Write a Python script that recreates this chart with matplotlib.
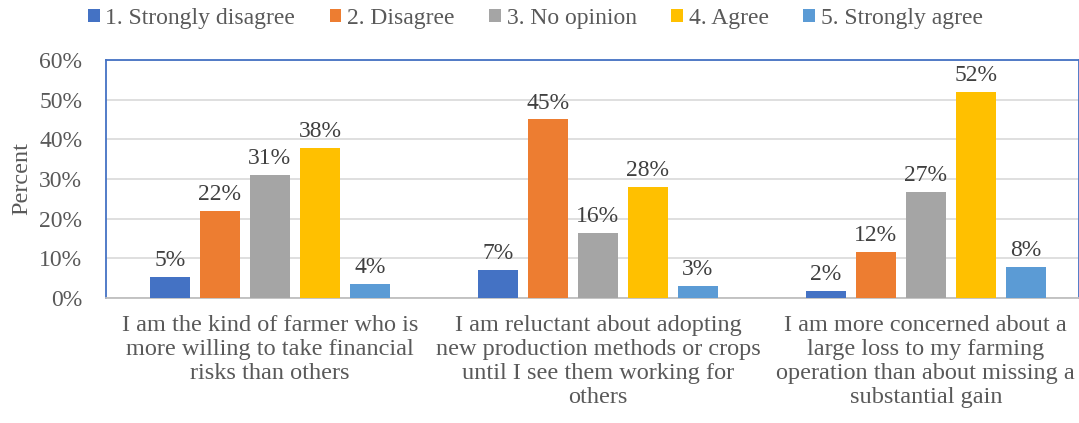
import numpy as np
import matplotlib.pyplot as plt

plt.rcParams['font.family'] = ['Liberation Serif', 'DejaVu Serif']

categories = [
    'I am the kind of farmer who is\nmore willing to take financial\nrisks than others',
    'I am reluctant about adopting\nnew production methods or crops\nuntil I see them working for\nothers',
    'I am more concerned about a\nlarge loss to my farming\noperation than about missing a\nsubstantial gain',
]
series_names = ['1. Strongly disagree', '2. Disagree', '3. No opinion', '4. Agree', '5. Strongly agree']
strongly_disagree = [5.4, 7.1, 1.8]
disagree = [22.0, 45.0, 11.7]
no_opinion = [31.0, 16.4, 26.7]
agree = [37.8, 28.0, 51.9]
strongly_agree = [3.6, 3.1, 7.8]
colors = ['#4472C4', '#ED7D31', '#A5A5A5', '#FFC000', '#5B9BD5']

series = [strongly_disagree, disagree, no_opinion, agree, strongly_agree]
text_col = '#595959'
fs = 17

fig = plt.figure(figsize=(10.79, 4.23), dpi=100)
ax = fig.add_axes([0.0982, 0.2955, 0.9018, 0.5627])

x = np.arange(len(categories))
step = 0.1525
width = 0.122
for i, (vals, name, c) in enumerate(zip(series, series_names, colors)):
    pos = x + (i - 2) * step
    bars = ax.bar(pos, vals, width, color=c, label=name, zorder=3)
    for b, v in zip(bars, vals):
        ax.text(b.get_x() + b.get_width() / 2, v + 1.5, f'{round(v)}%',
                ha='center', va='bottom', fontsize=fs, color='#404040')

ax.set_ylim(0, 60)
ax.set_xlim(-0.5, 2.467)
ax.set_yticks(np.arange(0, 61, 10))
ax.set_yticklabels([f'{t}%' for t in range(0, 61, 10)], fontsize=fs, color=text_col)
ax.set_xticks(x)
ax.set_xticklabels(categories, fontsize=17.5, color=text_col, va='top', linespacing=1.2)
ax.tick_params(axis='both', length=0)
ax.tick_params(axis='x', pad=12)
ax.tick_params(axis='y', pad=17)
ax.grid(axis='y', color='#D9D9D9', lw=1.2, zorder=0)
ax.set_ylabel('Percent', fontsize=17.5, color=text_col, labelpad=5)

ax.spines['left'].set_color('#4472C4')
ax.spines['top'].set_color('#4472C4')
ax.spines['right'].set_color('#4472C4')
ax.spines['bottom'].set_color('#BFBFBF')
for s in ax.spines.values():
    s.set_linewidth(1.3)

fig.legend(loc='center', bbox_to_anchor=(0.496, 0.957), ncol=5, frameon=False,
           fontsize=fs, labelcolor=text_col, handlelength=0.5, handleheight=0.5,
           handletextpad=0.25, columnspacing=1.45)

fig.savefig('out.png', dpi=100)
